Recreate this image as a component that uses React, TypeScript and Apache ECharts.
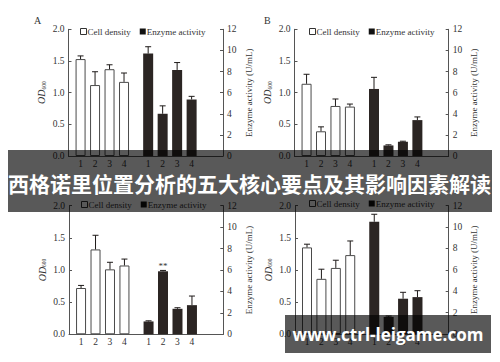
import React, { useEffect, useRef } from 'react';
import * as echarts from 'echarts';

// ---- data ----
const panelLabels = ['A', 'B'];
const groupLabels = ['1', '2', '3', '4'];

const cellA = [1.53, 1.12, 1.37, 1.17];
const cellErrA = [0.05, 0.21, 0.07, 0.14];
const enzA = [9.7, 4.0, 8.15, 5.35];
const enzErrA = [0.65, 0.75, 0.7, 0.3];

const cellB = [1.14, 0.39, 0.79, 0.78];
const cellErrB = [0.15, 0.07, 0.11, 0.04];
const enzB = [6.35, 1.0, 1.35, 3.4];
const enzErrB = [1.1, 0.06, 0.05, 0.3];

const cellC = [0.72, 1.32, 1.01, 1.07];
const cellErrC = [0.04, 0.22, 0.11, 0.1];
const enzC = [1.2, 5.88, 2.38, 2.72];
const enzErrC = [0.06, 0.08, 0.1, 0.85];
const enzMarkC = ['', '**', '', ''];

const cellD = [1.35, 0.86, 1.03, 1.23];
const cellErrD = [0.05, 0.15, 0.12, 0.22];
const enzD = [10.5, 1.6, 3.3, 3.45];
const enzErrD = [0.7, 0.08, 0.6, 0.6];

const odTicks = { min: 0, max: 2, interval: 0.5 };
const enzTicks = { min: 0, max: 12, interval: 2 };

const titleText = '西格诺里位置分析的五大核心要点及其影响因素解读';
const watermarkText = 'www.ctrl-leigame.com';

// ---- layout ----
const SLOT_COUNT = 32;
const cellSlots = [2, 5, 8, 11];
const enzSlots = [16, 19, 22, 25];
const grids = [
  { left: 68.5, top: 29.3, width: 154.5, height: 126.7 },
  { left: 294.5, top: 29.3, width: 154.2, height: 126.7 },
  { left: 69, top: 205.7, width: 154.3, height: 128.6 },
  { left: 295, top: 205.7, width: 153.7, height: 128.3 },
];
const legendPos = [
  { left: 80, top: 27 },
  { left: 309, top: 27 },
  { left: 81, top: 200 },
  { left: 309, top: 199 },
];
const labelPos = [
  [34, 15],
  [264, 15],
];

const SERIF = '"Liberation Serif", "DejaVu Serif", serif';
const AXIS = '#555';
const TXT = '#333';
const DARK = '#2b2523';

const panels = [
  { cell: cellA, cellErr: cellErrA, enz: enzA, enzErr: enzErrA, mark: null as null | string[] },
  { cell: cellB, cellErr: cellErrB, enz: enzB, enzErr: enzErrB, mark: null as null | string[] },
  { cell: cellC, cellErr: cellErrC, enz: enzC, enzErr: enzErrC, mark: enzMarkC },
  { cell: cellD, cellErr: cellErrD, enz: enzD, enzErr: enzErrD, mark: null as null | string[] },
];

function buildOption() {
  const categories = Array.from({ length: SLOT_COUNT }, (_, i) => {
    const a = cellSlots.indexOf(i);
    if (a >= 0) return groupLabels[a];
    const b = enzSlots.indexOf(i);
    if (b >= 0) return groupLabels[b];
    return '';
  });

  const errRender = (params: any, api: any) => {
    const x = api.value(0);
    const v = api.value(1);
    const e = api.value(2);
    const base = api.coord([x, v]);
    const top = api.coord([x, v + e]);
    const half = 3;
    const st = { stroke: '#1e1a19', lineWidth: 1 };
    return {
      type: 'group',
      children: [
        { type: 'line', shape: { x1: base[0], y1: base[1], x2: top[0], y2: top[1] }, style: st },
        { type: 'line', shape: { x1: top[0] - half, y1: top[1], x2: top[0] + half, y2: top[1] }, style: st },
      ],
    };
  };

  const xAxis: any[] = [];
  const yAxis: any[] = [];
  const series: any[] = [];
  const legend: any[] = [];

  panels.forEach((p, k) => {
    xAxis.push({
      type: 'category',
      gridIndex: k,
      data: categories,
      boundaryGap: true,
      axisLine: { lineStyle: { color: AXIS, width: 1 } },
      axisTick: { show: false },
      axisLabel: { interval: 0, fontFamily: SERIF, fontSize: 9.5, color: TXT, margin: 3 },
      splitLine: { show: false },
    });
    yAxis.push({
      type: 'value',
      gridIndex: k,
      position: 'left',
      ...odTicks,
      name: '{i|OD}{s|600}',
      nameLocation: 'middle',
      nameRotate: 90,
      nameGap: 22,
      nameTextStyle: {
        rich: {
          i: { fontFamily: SERIF, fontStyle: 'italic', fontSize: 10, color: TXT },
          s: { fontFamily: SERIF, fontSize: 5.5, color: TXT, verticalAlign: 'bottom', padding: [4, 0, 0, 0] },
        },
      },
      axisLine: { show: true, lineStyle: { color: AXIS, width: 1 } },
      axisTick: { show: true, inside: true, length: 3, lineStyle: { color: AXIS } },
      axisLabel: {
        fontFamily: SERIF,
        fontSize: 9.5,
        color: TXT,
        margin: 4,
        formatter: (v: number) => v.toFixed(1),
      },
      splitLine: { show: false },
    });
    yAxis.push({
      type: 'value',
      gridIndex: k,
      position: 'right',
      ...enzTicks,
      name: 'Enzyme activity (U/mL)',
      nameLocation: 'middle',
      nameRotate: 90,
      nameGap: 21,
      nameTextStyle: { fontFamily: SERIF, fontSize: 9, color: TXT },
      axisLine: { show: true, lineStyle: { color: AXIS, width: 1 } },
      axisTick: { show: true, inside: true, length: 3, lineStyle: { color: AXIS } },
      axisLabel: { fontFamily: SERIF, fontSize: 9.5, color: TXT, margin: 4 },
      splitLine: { show: false },
    });

    const cellData = categories.map(() => '-' as any);
    const enzData = categories.map(() => '-' as any);
    cellSlots.forEach((s, i) => (cellData[s] = p.cell[i]));
    enzSlots.forEach((s, i) => {
      const item: any = { value: p.enz[i] };
      if (p.mark && p.mark[i]) {
        item.label = {
          show: true,
          position: 'top',
          distance: 1,
          formatter: p.mark[i],
          fontFamily: SERIF,
          fontSize: 9,
          color: TXT,
        };
      }
      enzData[s] = item;
    });

    series.push({
      name: 'Cell density',
      type: 'bar',
      xAxisIndex: k,
      yAxisIndex: 2 * k,
      barWidth: 10,
      barGap: '-100%',
      data: cellData,
      itemStyle: { color: '#ffffff', borderColor: '#4a4a4a', borderWidth: 1 },
      z: 2,
    });
    series.push({
      name: 'Enzyme activity',
      type: 'bar',
      xAxisIndex: k,
      yAxisIndex: 2 * k + 1,
      barWidth: 10,
      barGap: '-100%',
      data: enzData,
      itemStyle: { color: DARK },
      z: 2,
    });
    series.push({
      type: 'custom',
      xAxisIndex: k,
      yAxisIndex: 2 * k,
      renderItem: errRender,
      encode: { x: 0, y: 1 },
      data: cellSlots.map((s, i) => [s, p.cell[i], p.cellErr[i]]),
      z: 3,
    });
    series.push({
      type: 'custom',
      xAxisIndex: k,
      yAxisIndex: 2 * k + 1,
      renderItem: errRender,
      encode: { x: 0, y: 1 },
      data: enzSlots.map((s, i) => [s, p.enz[i], p.enzErr[i]]),
      z: 3,
    });

    legend.push({
      ...legendPos[k],
      orient: 'horizontal',
      selectedMode: false,
      itemWidth: 6,
      itemHeight: 6,
      itemGap: 9,
      padding: 0,
      textStyle: { fontFamily: SERIF, fontSize: 9, color: TXT, padding: [0, 0, 0, -4] },
      data: [
        { name: 'Cell density', icon: 'rect', itemStyle: { color: '#fff', borderColor: '#333', borderWidth: 1 } },
        { name: 'Enzyme activity', icon: 'rect', itemStyle: { color: '#111' } },
      ],
    });
  });

  const graphic: any[] = panelLabels.map((t, k) => ({
    type: 'text',
    x: labelPos[k][0],
    y: labelPos[k][1],
    z: 10,
    style: { text: t, fontFamily: SERIF, fontSize: 10, fill: TXT },
  }));
  graphic.push({
    type: 'rect',
    shape: { x: 8, y: 150, width: 484, height: 62 },
    style: { fill: 'rgba(0,0,0,0.65)' },
    z: 100,
  });
  graphic.push({
    type: 'text',
    x: 8,
    y: 183,
    z: 101,
    style: {
      text: titleText,
      fontFamily: '"Noto Sans CJK SC", sans-serif',
      fontWeight: 'bold',
      fontSize: 21,
      fill: '#ffffff',
      verticalAlign: 'middle',
    },
  });
  graphic.push({
    type: 'rect',
    shape: { x: 285, y: 315, width: 206, height: 38 },
    style: { fill: 'rgba(0,0,0,0.65)' },
    z: 100,
  });
  graphic.push({
    type: 'text',
    x: 388,
    y: 334,
    z: 101,
    style: {
      text: watermarkText,
      fontFamily: '"Open Sans", "Noto Sans", sans-serif',
      fontWeight: 'bold',
      fontSize: 17,
      fill: '#ffffff',
      align: 'center',
      verticalAlign: 'middle',
    },
  });

  return {
    animation: false,
    backgroundColor: '#ffffff',
    grid: grids.map((g) => ({ ...g, containLabel: false })),
    xAxis,
    yAxis,
    legend,
    series,
    graphic,
  };
}

export default function App() {
  const ref = useRef<HTMLDivElement>(null);
  useEffect(() => {
    if (!ref.current) return;
    const chart = echarts.init(ref.current, undefined, { renderer: 'svg' });
    chart.setOption(buildOption() as any);
    return () => chart.dispose();
  }, []);
  return (
    <div
      ref={ref}
      style={{ position: 'fixed', left: 0, top: 0, width: 500, height: 362, background: '#fff' }}
    />
  );
}
